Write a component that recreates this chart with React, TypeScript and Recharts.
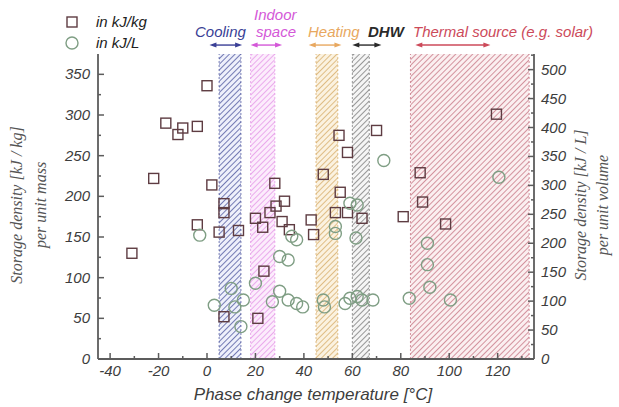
import React from "react";
import {
  ReferenceArea,
  ReferenceLine,
  Scatter,
  ScatterChart,
  XAxis,
  YAxis,
} from "recharts";

// storage density per unit mass (kJ/kg), left axis
const massTemp = [
  -31, -22, -17, -12, -10, -4, 0, 2, 7, 7, -4, 5, 13, 20, 23, 26, 28.5, 28, 32,
  31, 34, 23.5, 7, 21, 54.5, 70, 58, 48, 88, 89, 55, 53, 58, 64, 81, 43, 44,
  119.5, 98.5,
];
const massValue = [
  130, 222, 290, 276, 284, 286, 336, 214, 191, 180, 165, 156, 158, 173, 162,
  180, 188, 216, 194, 169, 159, 108, 52, 50, 275, 281, 254, 227, 229, 193, 205,
  180, 180, 173, 175, 171, 153, 301, 166,
];

// storage density per unit volume (kJ/L), right axis
const volTemp = [
  -3, 10, 3, 11.5, 15, 14, 20, 27, 30, 33.5, 37, 30, 33.5, 35, 37, 53, 53, 61.5,
  39.5, 48, 48.5, 57, 59, 62, 64, 68.5, 83.5, 91, 91, 92, 100.5, 59, 62, 73,
  120.5,
];
const volValue = [
  214, 122, 93, 90, 102, 56, 131, 99, 117, 102, 96, 177, 171, 212, 206, 229,
  217, 209, 90, 102, 90, 96, 105, 108, 102, 102, 105, 200, 163, 124, 102, 269,
  266, 343, 314,
];

const bandNames = ["Cooling", "Indoor space", "Heating", "DHW", "Thermal source (e.g. solar)"];
const bandFrom = [5, 18, 45, 60, 84];
const bandTo = [14, 28, 54, 67, 133];
const arrowFrom = [1, 18, 42, 60, 86];
const arrowTo = [14.5, 31, 55.5, 72, 117];

const xTicks = [-40, -30, -20, -10, 0, 10, 20, 30, 40, 50, 60, 70, 80, 90, 100, 110, 120, 130];
const xLabels = [-40, -20, 0, 20, 40, 60, 80, 100, 120];
const leftTicks = [0, 25, 50, 75, 100, 125, 150, 175, 200, 225, 250, 275, 300, 325, 350];
const leftLabels = [0, 50, 100, 150, 200, 250, 300, 350];
const rightTicks = [0, 25, 50, 75, 100, 125, 150, 175, 200, 225, 250, 275, 300, 325, 350, 375, 400, 425, 450, 475, 500, 525];
const rightLabels = [0, 50, 100, 150, 200, 250, 300, 350, 400, 450, 500];

const massData = massTemp.map((t, i) => ({ t, v: massValue[i] }));
const volData = volTemp.map((t, i) => ({ t, v: volValue[i] }));

const hatch = ["#3f4896", "#e38fe6", "#d4a65e", "#6e6e6e", "#c26c7a"];
const hatchBg = ["#eef0fb", "#fcecfc", "#fbf2e0", "#f5f5f5", "#fbeff0"];
const labelColor = ["#3a3f96", "#d458d8", "#e8a860", "#2a2a2a", "#cc4a5a"];

const axisColor = "#5c5c5c";
const textColor = "#3d3d3d";
const sans = "'Liberation Sans', Arial, sans-serif";
const serif = "'Liberation Serif', 'Times New Roman', serif";

const tickText = {
  fontFamily: sans,
  fontStyle: "italic",
  fontSize: 15,
  fill: textColor,
};

const BottomTick = ({ x, y, payload }: any) => {
  const major = xLabels.includes(payload.value);
  return (
    <g>
      <line x1={x} x2={x} y1={y} y2={y - (major ? 6 : 3)} stroke={axisColor} strokeWidth={1.5} />
      {major && (
        <text x={x} y={y + 17} textAnchor="middle" {...tickText}>
          {payload.value}
        </text>
      )}
    </g>
  );
};

const TopTick = ({ x, y, payload }: any) => {
  const major = xLabels.includes(payload.value);
  return <line x1={x} x2={x} y1={y} y2={y + (major ? 6 : 3)} stroke={axisColor} strokeWidth={1.5} />;
};

const LeftTick = ({ x, y, payload }: any) => {
  const major = leftLabels.includes(payload.value);
  return (
    <g>
      <line x1={x} x2={x + (major ? 6 : 3)} y1={y} y2={y} stroke={axisColor} strokeWidth={1.5} />
      {major && (
        <text x={x - 8} y={y + 5} textAnchor="end" {...tickText}>
          {payload.value}
        </text>
      )}
    </g>
  );
};

const RightTick = ({ x, y, payload }: any) => {
  const major = rightLabels.includes(payload.value);
  return (
    <g>
      <line x1={x} x2={x - (major ? 6 : 3)} y1={y} y2={y} stroke={axisColor} strokeWidth={1.5} />
      {major && (
        <text x={x + 7} y={y + 5} textAnchor="start" {...tickText}>
          {payload.value}
        </text>
      )}
    </g>
  );
};

const arrowShape = (color: string) => (p: any) => {
  const { x1, x2, y1 } = p;
  return (
    <g>
      <line x1={x1 + 3} x2={x2 - 3} y1={y1} y2={y1} stroke={color} strokeWidth={1.4} />
      <polygon points={`${x1},${y1} ${x1 + 7},${y1 - 2.5} ${x1 + 7},${y1 + 2.5}`} fill={color} />
      <polygon points={`${x2},${y1} ${x2 - 7},${y1 - 2.5} ${x2 - 7},${y1 + 2.5}`} fill={color} />
    </g>
  );
};

const squareShape = (p: any) => (
  <rect x={p.cx - 5} y={p.cy - 5} width={10} height={10} fill="none" stroke="#5e3c42" strokeWidth={1.4} />
);
const circleShape = (p: any) => (
  <circle cx={p.cx} cy={p.cy} r={6} fill="none" stroke="#7f9e84" strokeWidth={1.4} />
);

export default function App() {
  return (
    <div style={{ position: "absolute", left: 0, top: 0, width: 619, height: 407, background: "#fff" }}>
      <svg width={0} height={0} style={{ position: "absolute" }}>
        <defs>
          {bandNames.map((_, i) => (
            <pattern
              key={i}
              id={`hatch-${i}`}
              patternUnits="userSpaceOnUse"
              width={4}
              height={4}
              patternTransform="rotate(45)"
            >
              <rect width={4} height={4} fill={hatchBg[i]} />
              <line x1={0} y1={0} x2={0} y2={4} stroke={hatch[i]} strokeWidth={1.4} />
            </pattern>
          ))}
        </defs>
      </svg>

      <ScatterChart width={619} height={407} margin={{ top: 54, right: 45, bottom: 18, left: 58 }}>
        <XAxis
          xAxisId="b"
          type="number"
          dataKey="t"
          domain={[-45, 135]}
          ticks={xTicks}
          interval={0}
          allowDataOverflow
          height={30}
          tickSize={0}
          tickMargin={0}
          tick={<BottomTick />}
          axisLine={{ stroke: axisColor, strokeWidth: 1.8 }}
          tickLine={false}
        />
        <XAxis
          xAxisId="t"
          orientation="top"
          type="number"
          dataKey="t"
          domain={[-45, 135]}
          ticks={xTicks}
          interval={0}
          allowDataOverflow
          height={0}
          tickSize={0}
          tickMargin={0}
          tick={<TopTick />}
          axisLine={{ stroke: axisColor, strokeWidth: 1.8 }}
          tickLine={false}
        />
        <YAxis
          yAxisId="l"
          type="number"
          dataKey="v"
          domain={[0, 375]}
          ticks={leftTicks}
          interval={0}
          allowDataOverflow
          width={40}
          tickSize={0}
          tickMargin={0}
          tick={<LeftTick />}
          axisLine={{ stroke: axisColor, strokeWidth: 1.8 }}
          tickLine={false}
        />
        <YAxis
          yAxisId="r"
          orientation="right"
          type="number"
          dataKey="v"
          domain={[0, 527]}
          ticks={rightTicks}
          interval={0}
          allowDataOverflow
          width={40}
          tickSize={0}
          tickMargin={0}
          tick={<RightTick />}
          axisLine={{ stroke: axisColor, strokeWidth: 1.8 }}
          tickLine={false}
        />

        {bandNames.map((name, i) => (
          <ReferenceArea
            key={name}
            xAxisId="b"
            yAxisId="l"
            x1={bandFrom[i]}
            x2={bandTo[i]}
            fill={`url(#hatch-${i})`}
            fillOpacity={1}
            stroke="none"
          />
        ))}
        {bandNames.map((name, i) =>
          [bandFrom[i], bandTo[i]].map((x, j) => (
            <ReferenceLine
              key={`${name}-${j}`}
              xAxisId="b"
              yAxisId="l"
              x={x}
              stroke={hatch[i]}
              strokeDasharray="2 2"
              strokeOpacity={0.7}
            />
          ))
        )}
        {bandNames.map((name, i) => (
          <ReferenceLine
            key={`arrow-${name}`}
            xAxisId="b"
            yAxisId="l"
            ifOverflow="visible"
            segment={[
              { x: arrowFrom[i], y: 386 },
              { x: arrowTo[i], y: 386 },
            ]}
            shape={arrowShape(labelColor[i])}
          />
        ))}

        <Scatter
          name="in kJ/kg"
          data={massData}
          xAxisId="b"
          yAxisId="l"
          shape={squareShape}
          isAnimationActive={false}
        />
        <Scatter
          name="in kJ/L"
          data={volData}
          xAxisId="b"
          yAxisId="r"
          shape={circleShape}
          isAnimationActive={false}
        />
      </ScatterChart>

      <svg
        width={619}
        height={407}
        style={{ position: "absolute", left: 0, top: 0, pointerEvents: "none" }}
      >
        <rect x={67} y={17} width={10} height={10} fill="none" stroke="#5e3c42" strokeWidth={1.4} />
        <circle cx={72} cy={43} r={6} fill="none" stroke="#7f9e84" strokeWidth={1.4} />
        <text x={96} y={27} fontFamily={sans} fontStyle="italic" fontSize={15} fill="#222">
          in kJ/kg
        </text>
        <text x={96} y={48} fontFamily={sans} fontStyle="italic" fontSize={15} fill="#222">
          in kJ/L
        </text>

        <g fontFamily={sans} fontStyle="italic" fontSize={15}>
          <text x={195} y={37} fill={labelColor[0]}>Cooling</text>
          <text x={254} y={20} fill={labelColor[1]}>Indoor</text>
          <text x={256} y={37} fill={labelColor[1]}>space</text>
          <text x={308} y={37} fill={labelColor[2]}>Heating</text>
          <text x={368} y={37} fill={labelColor[3]} fontWeight={600}>DHW</text>
          <text x={413} y={37} fill={labelColor[4]}>Thermal source (e.g. solar)</text>
        </g>

        <text
          x={313}
          y={400}
          textAnchor="middle"
          fontFamily={sans}
          fontStyle="italic"
          fontSize={17}
          fill={textColor}
        >
          Phase change temperature [°C]
        </text>

        <g fontFamily={serif} fontStyle="italic" fontSize={16} fill="#555" textAnchor="middle">
          <text transform="translate(22,205) rotate(-90)">Storage density [kJ / kg]</text>
          <text transform="translate(46,205) rotate(-90)">per unit mass</text>
          <text transform="translate(586,205) rotate(-90)">Storage density [kJ / L]</text>
          <text transform="translate(608,205) rotate(-90)">per unit volume</text>
        </g>
      </svg>
    </div>
  );
}
